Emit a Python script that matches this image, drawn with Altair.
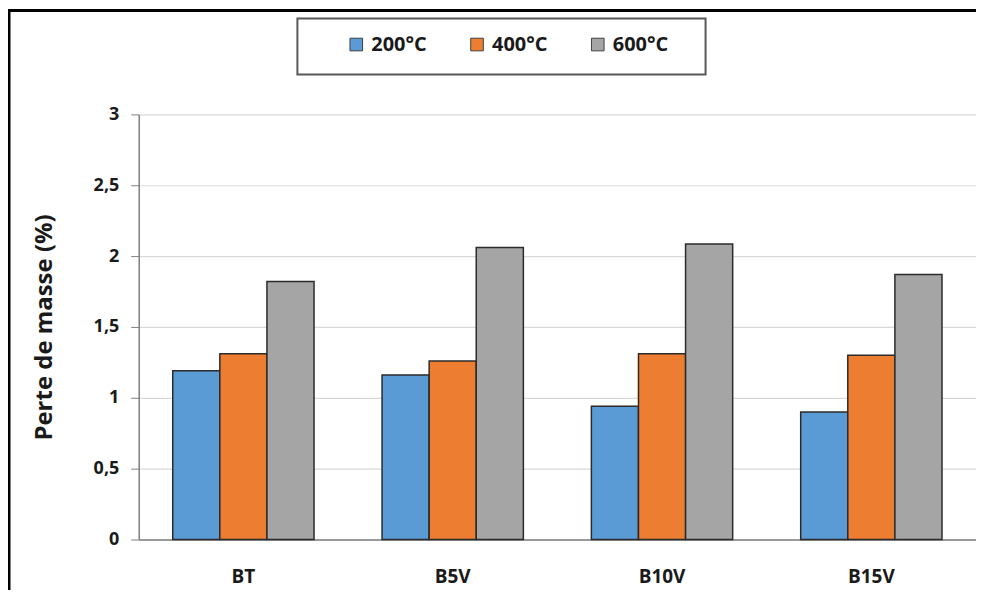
import altair as alt
import pandas as pd

categories = ["BT", "B5V", "B10V", "B15V"]
series = ["200°C", "400°C", "600°C"]
v200 = [1.19, 1.16, 0.94, 0.90]
v400 = [1.31, 1.26, 1.31, 1.30]
v600 = [1.82, 2.06, 2.085, 1.87]
colors = ["#5B9BD5", "#ED7D31", "#A5A5A5"]
y_ticks = [0, 0.5, 1, 1.5, 2, 2.5, 3]

rows = []
for s, vals in zip(series, [v200, v400, v600]):
    for c, v in zip(categories, vals):
        rows.append({"cat": c, "serie": s, "val": v})
df = pd.DataFrame(rows)

W, H = 839, 426
FONT = "Open Sans"
TXT = "#1a1a1a"

bars = alt.Chart(df).mark_bar(stroke="#2b2b2b", strokeWidth=1.5).encode(
    x=alt.X("cat:N", sort=categories,
            scale=alt.Scale(paddingInner=0.325, paddingOuter=0.1625),
            axis=alt.Axis(title=None, labelAngle=0, labelFontSize=19, labelFontWeight="bold",
                          labelFont=FONT, labelColor=TXT, labelPadding=28, ticks=False,
                          domainColor="#7f7f7f", domainWidth=1.5)),
    xOffset=alt.XOffset("serie:N", sort=series, scale=alt.Scale(paddingInner=0, paddingOuter=0)),
    y=alt.Y("val:Q", scale=alt.Scale(domain=[0, 3], nice=False),
            axis=alt.Axis(values=y_ticks, title="Perte de masse (%)",
                          labelExpr="replace(toString(datum.value), '.', ',')",
                          labelFontSize=18, labelFontWeight="bold", labelFont=FONT, labelColor=TXT,
                          labelPadding=12, tickSize=8, tickColor="#7f7f7f", domainColor="#7f7f7f",
                          domainWidth=1.5, grid=True, gridColor="#d9d9d9", gridWidth=1.2,
                          titleFont=FONT, titleFontSize=24, titleFontWeight="bold", titleColor=TXT,
                          titlePadding=37)),
    color=alt.Color("serie:N", sort=series, scale=alt.Scale(domain=series, range=colors),
                    legend=alt.Legend(title=None, orient="none", legendX=208, legendY=-80,
                                      direction="horizontal", columns=3, padding=0,
                                      symbolType="square", symbolSize=160, symbolStrokeColor="#404040",
                                      symbolStrokeWidth=1, symbolOpacity=1, labelFont=FONT,
                                      labelFontSize=20, labelFontWeight="bold", labelColor=TXT,
                                      labelOffset=5, columnPadding=40)),
)

one = pd.DataFrame({"a": [0]})
frame = alt.Chart(one).mark_rect(fill="transparent", stroke="black", strokeWidth=3).encode(
    x=alt.value(-130), x2=alt.value(900), y=alt.value(-104), y2=alt.value(700))
legbox = alt.Chart(one).mark_rect(fill="transparent", stroke="#595959", strokeWidth=2).encode(
    x=alt.value(159), x2=alt.value(568), y=alt.value(-96), y2=alt.value(-40))

chart = alt.layer(frame, legbox, bars).properties(
    width=W, height=H,
    padding={"left": 131, "top": 106, "right": 0, "bottom": 50},
    autosize=alt.AutoSizeParams(type="none"),
).configure_view(stroke=None)

chart.save("out.html", embed_options={"renderer": "svg", "actions": False})
